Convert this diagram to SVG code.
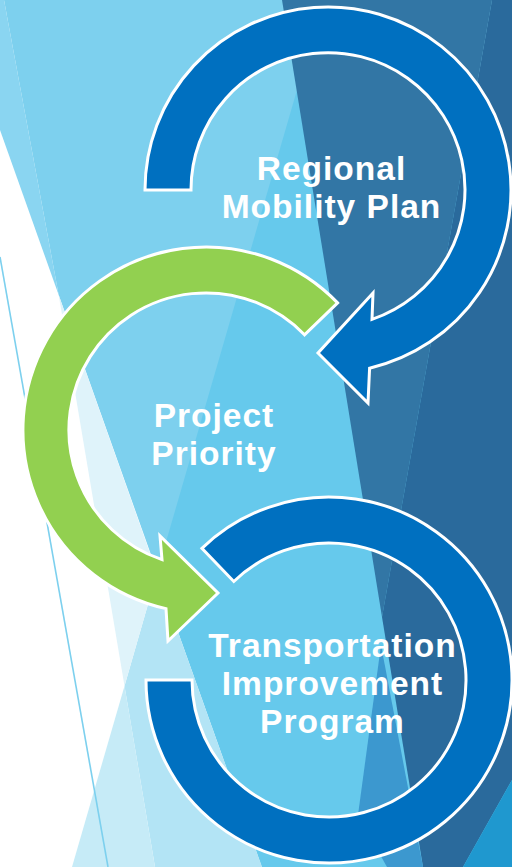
<svg xmlns="http://www.w3.org/2000/svg" width="512" height="867" viewBox="0 0 512 867">
<style>
.ring{stroke:#ffffff;stroke-width:3;stroke-linejoin:miter}
.blue{fill:#0070c0}
.green{fill:#92d050}
.lbl{font-family:"Liberation Sans",Arial,sans-serif;font-weight:bold;font-size:33.5px;letter-spacing:1px;fill:#ffffff;text-anchor:middle}
</style>
<g id="background">
<rect x="0" y="0" width="512" height="867" fill="#ffffff"/>
<polygon points="0,0 4,0 58.7,295 0,130" fill="#8ad5f1"/>
<polygon points="4,0 512,0 512,867 262,867 58.7,295" fill="#7dd0ee"/>
<polygon points="297,90 512,90 512,867 262,867 157,573" fill="#66c9ec"/>
<polygon points="157,573 262,867 155,867 124.5,686" fill="#b3e4f5"/>
<polygon points="124.5,686 155,867 72,867" fill="#c6ebf7"/>
<polygon points="58.7,295 124.5,686 157,573" fill="#dff3fa"/>
<line x1="0" y1="257" x2="108" y2="867" stroke="#7dd0ee" stroke-width="1.6"/>
<polygon points="282,0 492,0 382,617" fill="#3276a5"/>
<polygon points="492,0 512,0 512,780 463,867 423,867 382,617" fill="#2a6a9c"/>
<polygon points="381,645 423,867 387,867 358,815" fill="#3c98cf"/>
<polygon points="463,867 512,780 512,867" fill="#1f98cf"/>
</g>
<g id="connectors"></g>
<g id="node-regional-mobility-plan">
<path class="ring blue" d="M145,190 A183,183 0 1 1 369.6,368.2 L368,403 L318,353 L373,293 L372,319.4 A137,137 0 1 0 191,190 Z"/>
<text class="lbl"><tspan x="331.5" y="180">Regional</tspan><tspan x="331.5" y="218">Mobility Plan</tspan></text>
</g>
<g id="node-project-priority">
<path class="ring green" d="M337.6,302.9 A183,183 0 1 0 166,608.6 L168,641 L218,593 L160,536 L162,559.7 A137,137 0 1 1 304.5,334.8 Z"/>
<text class="lbl"><tspan x="214" y="427">Project</tspan><tspan x="214" y="465">Priority</tspan></text>
</g>
<g id="node-transportation-improvement-program">
<path class="ring blue" d="M146,680 A183,183 0 1 0 201.9,548.4 L233.8,581.5 A137,137 0 1 1 192,680 Z"/>
<text class="lbl"><tspan x="332.5" y="657">Transportation</tspan><tspan x="332.5" y="695">Improvement</tspan><tspan x="332.5" y="733">Program</tspan></text>
</g>
</svg>
